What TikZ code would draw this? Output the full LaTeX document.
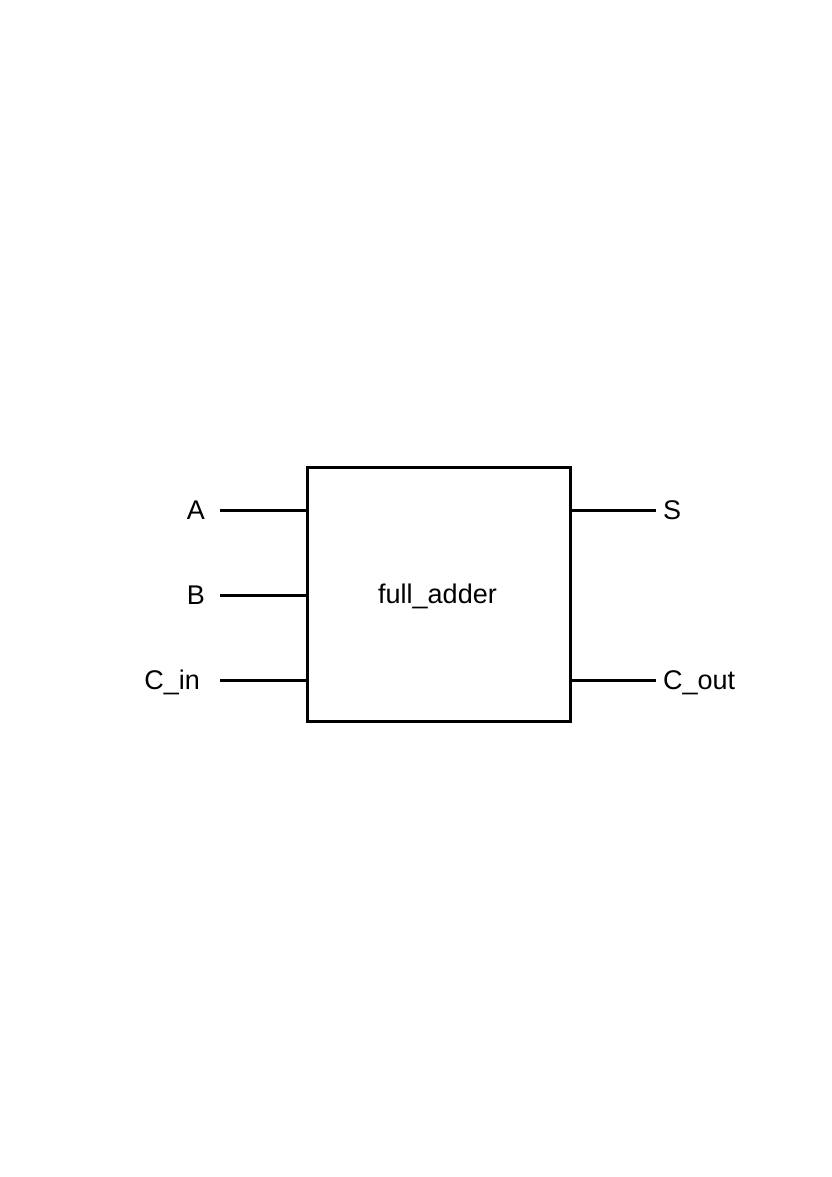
\documentclass[tikz,border=0pt]{standalone}
\usepackage{fontspec}
\setmainfont{Liberation Sans}
\begin{document}
\begin{tikzpicture}[x=1bp,y=-1bp,
  wire/.style={line width=3bp},
  lbl/.style={inner sep=0pt,font=\fontsize{27bp}{32bp}\selectfont}]
\useasboundingbox (0,0) rectangle (832,1177);
\node[draw,line width=3bp,minimum width=263bp,minimum height=254bp,inner sep=0pt] (box) at (438.5,594) {};
\node[lbl,anchor=base] (name) at (437.5,603) {full\_adder};
\coordinate (pa) at (220,510);
\coordinate (pb) at (220,595);
\coordinate (pc) at (220,680);
\coordinate (ps) at (656,510);
\coordinate (pco) at (656,680);
\draw[wire] (pa) -- (pa -| box.west);
\draw[wire] (pb) -- (pb -| box.west);
\draw[wire] (pc) -- (pc -| box.west);
\draw[wire] (ps -| box.east) -- (ps);
\draw[wire] (pco -| box.east) -- (pco);
\node[lbl,anchor=base east] (la) at (205,519) {A};
\node[lbl,anchor=base east] (lb) at (205,604) {B};
\node[lbl,anchor=base east] (lc) at (200,689) {C\_in};
\node[lbl,anchor=base west] (ls) at (663,519) {S};
\node[lbl,anchor=base west] (lco) at (663,689) {C\_out};
\end{tikzpicture}
\end{document}
